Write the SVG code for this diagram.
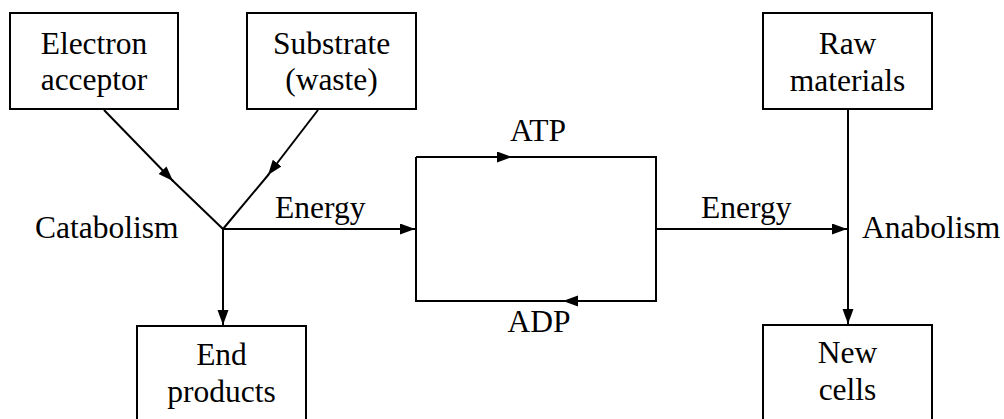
<svg xmlns="http://www.w3.org/2000/svg" width="1004" height="419" viewBox="0 0 1004 419">
<defs>
<style>
.box{fill:#fff;stroke:#000;stroke-width:2}
text{font-family:'Liberation Serif','Times New Roman',Times,'DejaVu Serif',serif;font-size:31.5px;fill:#000}
.t{text-anchor:middle}
.c{fill:none;stroke:#000;stroke-width:2}
</style>
<marker id="ah" markerUnits="userSpaceOnUse" markerWidth="16" markerHeight="12" refX="15" refY="5.5" orient="auto">
<path d="M0,0 L15,5.5 L0,11 Z" fill="#000"/>
</marker>
</defs>
<rect width="1004" height="419" fill="#fff"/>
<g id="electron-acceptor"><rect class="box" x="10" y="13" width="168" height="96"/><text class="t" x="94" y="54">Electron</text><text class="t" x="94" y="90">acceptor</text></g>
<g id="substrate"><rect class="box" x="247" y="13" width="169" height="96"/><text class="t" x="331.5" y="54">Substrate</text><text class="t" x="331.5" y="90">(waste)</text></g>
<g id="end-products"><rect class="box" x="137" y="326" width="169" height="100"/><text class="t" x="221.5" y="365">End</text><text class="t" x="221.5" y="402">products</text></g>
<g id="raw-materials"><rect class="box" x="763" y="13" width="169" height="96"/><text class="t" x="847.5" y="54">Raw</text><text class="t" x="847.5" y="91">materials</text></g>
<g id="new-cells"><rect class="box" x="763" y="325" width="169" height="100"/><text class="t" x="847.5" y="363">New</text><text class="t" x="847.5" y="400">cells</text></g>
<g id="labels">
<text x="35" y="238">Catabolism</text>
<text x="275" y="218">Energy</text>
<text x="701" y="218">Energy</text>
<text x="862" y="238">Anabolism</text>
<text class="t" x="538" y="141">ATP</text>
<text class="t" x="539" y="332">ADP</text>
</g>
<g id="connectors">
<line class="c" x1="104" y1="110" x2="173" y2="181" marker-end="url(#ah)"/>
<line class="c" x1="172" y1="180" x2="223" y2="229"/>
<line class="c" x1="318" y1="110" x2="268" y2="175" marker-end="url(#ah)"/>
<line class="c" x1="269" y1="174" x2="223" y2="229"/>
<line class="c" x1="223" y1="229" x2="415" y2="229" marker-end="url(#ah)"/>
<line class="c" x1="223" y1="229" x2="223" y2="325" marker-end="url(#ah)"/>
<line class="c" x1="416" y1="157" x2="512" y2="157" marker-end="url(#ah)"/>
<polyline class="c" points="510,157 656,157 656,301 562,301"/>
<line class="c" x1="656" y1="301" x2="563" y2="301" marker-end="url(#ah)"/>
<polyline class="c" points="563,301 416,301 416,157"/>
<line class="c" x1="656" y1="229" x2="847" y2="229" marker-end="url(#ah)"/>
<line class="c" x1="848" y1="109" x2="848" y2="324" marker-end="url(#ah)"/>
</g>
</svg>
